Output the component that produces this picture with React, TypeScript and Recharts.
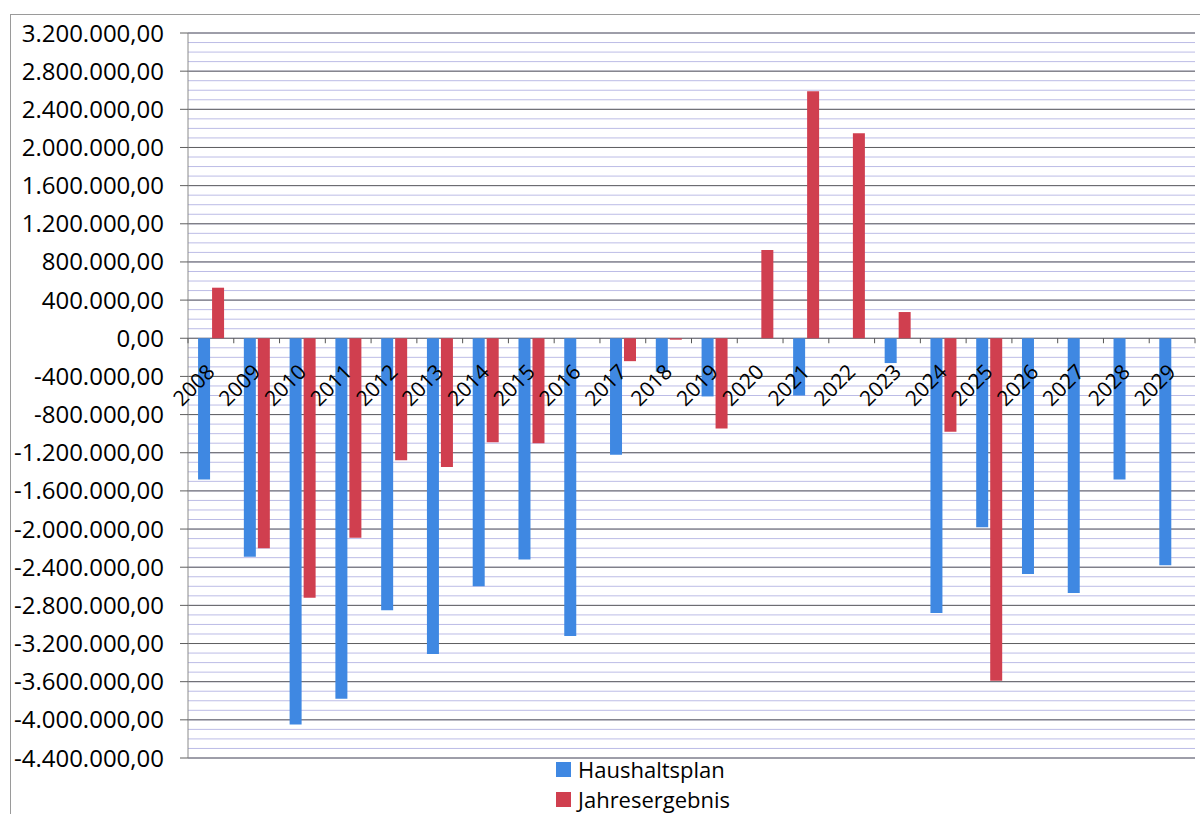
import React from 'react'
import { BarChart, Bar, XAxis, YAxis, CartesianGrid, Legend } from 'recharts'

const years = [
  '2008', '2009', '2010', '2011', '2012', '2013', '2014', '2015', '2016', '2017', '2018',
  '2019', '2020', '2021', '2022', '2023', '2024', '2025', '2026', '2027', '2028', '2029',
]

// Haushaltsplan (blue)
const haushaltsplan = [
  -1480000, -2290000, -4050000, -3780000, -2850000, -3310000, -2600000, -2320000, -3120000,
  -1220000, -350000, -610000, 0, -600000, 0, -260000, -2880000, -1980000, -2470000, -2670000,
  -1480000, -2380000,
]

// Jahresergebnis (red)
const jahresergebnis = [
  530000, -2200000, -2720000, -2090000, -1280000, -1350000, -1090000, -1100000, 0, -240000,
  -15000, -945000, 925000, 2590000, 2150000, 275000, -980000, -3590000, 0, 0, 0, 0,
]

const majorTicks = [
  3200000, 2800000, 2400000, 2000000, 1600000, 1200000, 800000, 400000, 0, -400000, -800000,
  -1200000, -1600000, -2000000, -2400000, -2800000, -3200000, -3600000, -4000000, -4400000,
]
const minorStep = 100000
const minorTicks = Array.from(
  { length: (majorTicks[0] - majorTicks[majorTicks.length - 1]) / minorStep + 1 },
  (_, i) => majorTicks[0] - i * minorStep
)

const data = years.map((year, i) => ({
  year,
  haushaltsplan: haushaltsplan[i],
  jahresergebnis: jahresergebnis[i],
}))

const W = 1200
const H = 814
const M = { top: 33, right: 5, bottom: 50, left: 0 }
const Y_AXIS_W = 188
const X_AXIS_H = 6
const plotTop = M.top
const plotH = H - M.top - M.bottom - X_AXIS_H
const plotW = W - M.left - M.right - Y_AXIS_W
const yMax = majorTicks[0]
const yMin = majorTicks[majorTicks.length - 1]
const zeroY = plotTop + (plotH * yMax) / (yMax - yMin)
const band = plotW / years.length

const BLUE = '#3f88e2'
const RED = '#d03f4f'
const FONT = '"Open Sans", sans-serif'

const fmt = new Intl.NumberFormat('de-DE', { minimumFractionDigits: 2, maximumFractionDigits: 2 })

function YearTick(props: any) {
  const { x, index, payload } = props
  const left = x - band / 2
  const tx = x + 5
  const ty = zeroY + 35
  return (
    <g>
      <line x1={left} x2={left} y1={zeroY} y2={zeroY + 5} stroke="#555" />
      {index === years.length - 1 && (
        <line x1={left + band} x2={left + band} y1={zeroY} y2={zeroY + 5} stroke="#555" />
      )}
      <text
        x={tx}
        y={ty}
        transform={`rotate(-45 ${tx} ${ty})`}
        textAnchor="end"
        fontFamily={FONT}
        fontSize={21}
        fill="#000"
      >
        {payload.value}
      </text>
    </g>
  )
}

function LegendBox() {
  const items = [
    { label: 'Haushaltsplan', color: BLUE },
    { label: 'Jahresergebnis', color: RED },
  ]
  return (
    <div style={{ fontFamily: FONT, fontSize: 22, color: '#000', lineHeight: '30px' }}>
      {items.map((it) => (
        <div key={it.label} style={{ display: 'flex', alignItems: 'center', height: 30 }}>
          <span style={{ width: 15, height: 15, background: it.color, marginRight: 7, display: 'inline-block' }} />
          {it.label}
        </div>
      ))}
    </div>
  )
}

export default function App() {
  return (
    <div style={{ position: 'absolute', left: 0, top: 0, width: W, height: H, background: '#fff', overflow: 'hidden' }}>
      <div
        style={{
          position: 'absolute',
          left: 10,
          top: 14,
          width: W - 10,
          height: H - 14,
          borderLeft: '1px solid #9a9a9a',
          borderTop: '1px solid #9a9a9a',
          boxSizing: 'border-box',
        }}
      />
      <BarChart
        width={W}
        height={H}
        data={data}
        margin={M}
        barCategoryGap="22%"
        barGap={2}
      >
        <CartesianGrid vertical={false} horizontalValues={minorTicks} stroke="#bcbce6" strokeWidth={1} />
        <CartesianGrid vertical={false} horizontalValues={majorTicks} stroke="#5f5f5f" strokeWidth={1} />
        <XAxis
          dataKey="year"
          height={X_AXIS_H}
          axisLine={false}
          tickLine={false}
          interval={0}
          tick={<YearTick />}
        />
        <YAxis
          width={Y_AXIS_W}
          domain={[yMin, yMax]}
          ticks={majorTicks}
          interval={0}
          allowDataOverflow
          tickFormatter={(v: number) => fmt.format(v)}
          tick={{ fontFamily: FONT, fontSize: 24, fill: '#000' }}
          tickSize={8}
          tickMargin={16}
          axisLine={{ stroke: '#8a8a8a' }}
          tickLine={{ stroke: '#5f5f5f' }}
        />
        <Bar dataKey="haushaltsplan" name="Haushaltsplan" fill={BLUE} isAnimationActive={false} />
        <Bar dataKey="jahresergebnis" name="Jahresergebnis" fill={RED} isAnimationActive={false} />
        <Legend
          layout="vertical"
          align="center"
          verticalAlign="middle"
          content={<LegendBox />}
          wrapperStyle={{ top: 754, left: 556, width: 'auto', height: 'auto' }}
        />
      </BarChart>
    </div>
  )
}
